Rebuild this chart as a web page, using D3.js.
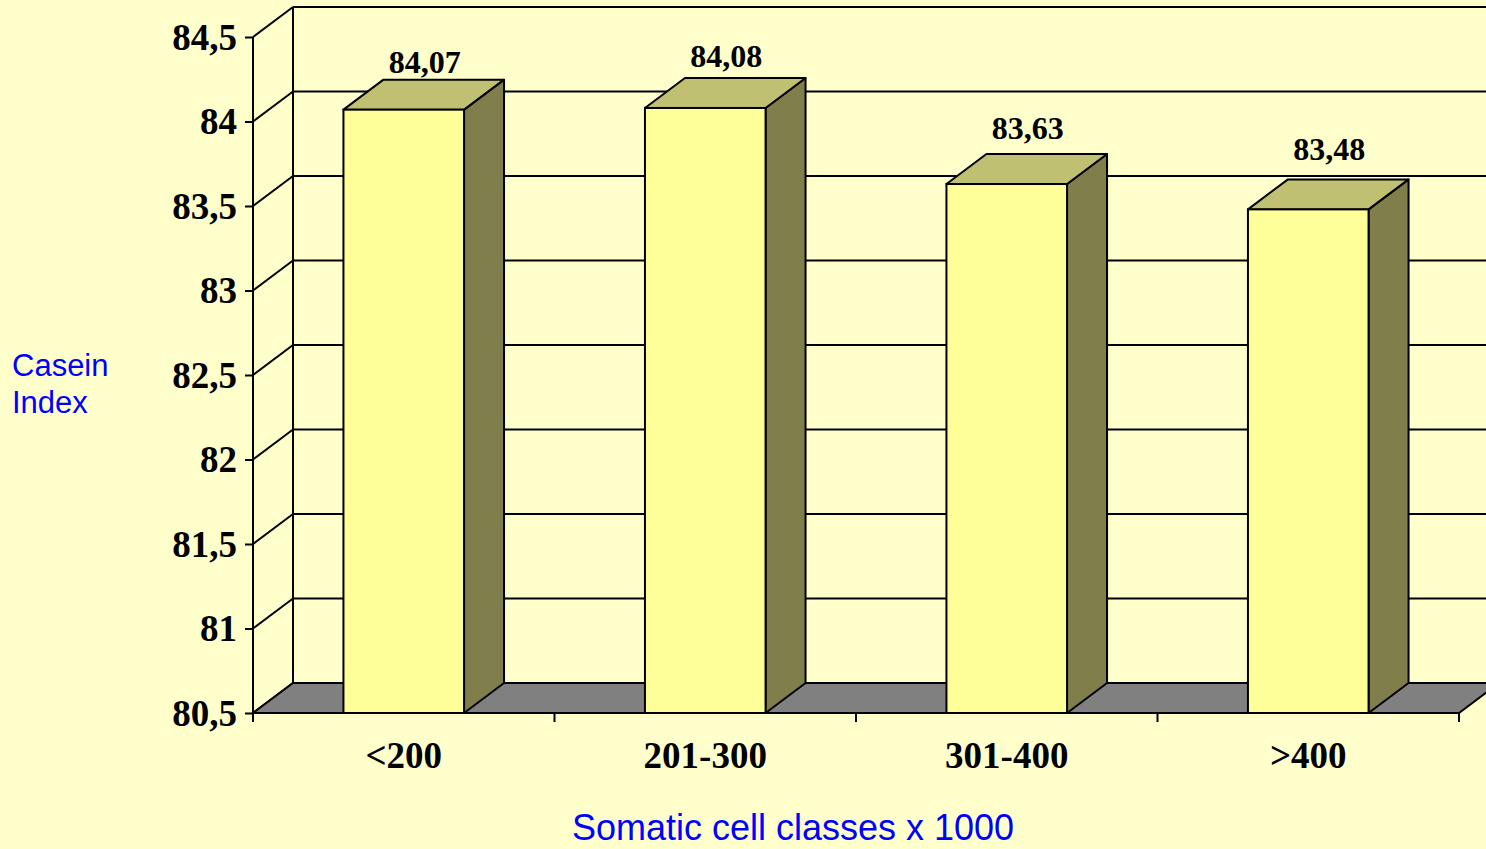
<!DOCTYPE html>
<html>
<head>
<meta charset="utf-8">
<script src="https://cdn.jsdelivr.net/npm/d3@7"></script>
<style>
  html, body { margin: 0; padding: 0; background: #FFFFCC; }
  svg { display: block; }
  .num { font-family: "Liberation Serif", "Times New Roman", serif; font-weight: bold; fill: #000; }
  .ttl { font-family: "Liberation Sans", Arial, sans-serif; fill: #0000FF; }
</style>
</head>
<body>
<svg id="chart" width="1486" height="849"></svg>
<script>
// Casein index by somatic cell class
const categories = ["<200", "201-300", "301-400", ">400"];
const caseinIndex = [84.07, 84.08, 83.63, 83.48];
const yTicks = [80.5, 81, 81.5, 82, 82.5, 83, 83.5, 84, 84.5];

const W = 1486, H = 849;
const svg = d3.select("#chart");
svg.append("rect").attr("width", W).attr("height", H).attr("fill", "#FFFFCC");

// front plane geometry and depth offset of the 3D box
const x0 = 253, x1 = 1459, yBottom = 713, yTop = 37;
const dx = 40, dy = -30;

const y = d3.scaleLinear().domain([80.5, 84.5]).range([yBottom, yTop]);
const x = d3.scaleBand().domain(categories).range([x0, x1]).padding(0);
const barW = x.bandwidth() / 2.5;   // gap width 150%

const loc = d3.formatLocale({ decimal: ",", thousands: ".", grouping: [3], currency: ["", ""] });
const fmtTick = loc.format(".1~f");
const fmtVal = loc.format(".2f");

const stroke = "#000";
const lw = 2;

// back wall gridlines
const g = svg.append("g");
g.selectAll("line.grid").data(yTicks.slice(1)).join("line")
  .attr("x1", x0 + dx).attr("x2", x1 + dx)
  .attr("y1", d => y(d) + dy).attr("y2", d => y(d) + dy)
  .attr("stroke", stroke).attr("stroke-width", lw);

// left side wall: diagonal lines from front ticks to the back wall
g.selectAll("line.side").data(yTicks).join("line")
  .attr("x1", x0).attr("y1", d => y(d))
  .attr("x2", x0 + dx).attr("y2", d => y(d) + dy)
  .attr("stroke", stroke).attr("stroke-width", lw);

// back wall left edge
g.append("line")
  .attr("x1", x0 + dx).attr("x2", x0 + dx)
  .attr("y1", y(84.5) + dy).attr("y2", y(80.5) + dy)
  .attr("stroke", stroke).attr("stroke-width", lw);

// floor
g.append("path")
  .attr("d", `M${x0},${yBottom}L${x1},${yBottom}L${x1 + dx},${yBottom + dy}L${x0 + dx},${yBottom + dy}Z`)
  .attr("fill", "#808080").attr("stroke", stroke).attr("stroke-width", lw)
  .attr("stroke-linejoin", "miter");

// bars
const bars = svg.append("g");
categories.forEach((c, i) => {
  const v = caseinIndex[i];
  const bx = x(c) + (x.bandwidth() - barW) / 2;
  const top = y(v), bot = y(80.5);
  const bg = bars.append("g");
  // side face
  bg.append("path")
    .attr("d", `M${bx + barW},${bot}L${bx + barW + dx},${bot + dy}L${bx + barW + dx},${top + dy}L${bx + barW},${top}Z`)
    .attr("fill", "#807F4C").attr("stroke", stroke).attr("stroke-width", lw).attr("stroke-linejoin", "round");
  // top face
  bg.append("path")
    .attr("d", `M${bx},${top}L${bx + dx},${top + dy}L${bx + barW + dx},${top + dy}L${bx + barW},${top}Z`)
    .attr("fill", "#C0C072").attr("stroke", stroke).attr("stroke-width", lw).attr("stroke-linejoin", "round");
  // front face
  bg.append("rect")
    .attr("x", bx).attr("y", top).attr("width", barW).attr("height", bot - top)
    .attr("fill", "#FFFF99").attr("stroke", stroke).attr("stroke-width", lw);
  // value label, lifted a little more towards the right (perspective)
  bg.append("text").attr("class", "num")
    .attr("x", bx + barW / 2 + dx / 2 + 1).attr("y", top + dy - 7 - 4 * i)
    .attr("text-anchor", "middle").attr("font-size", 32)
    .text(fmtVal(v));
});

// value axis on the front plane
const yAxis = svg.append("g").attr("transform", `translate(${x0},0)`)
  .call(d3.axisLeft(y).tickValues(yTicks).tickSize(8).tickPadding(8).tickFormat(fmtTick));
yAxis.select(".domain").attr("stroke", stroke).attr("stroke-width", lw).attr("d", `M0,${yTop}V${yBottom}`);
yAxis.selectAll(".tick line").attr("stroke", stroke).attr("stroke-width", lw);
yAxis.selectAll(".tick text").attr("class", "num").attr("font-size", 37)
  .attr("dy", "0.33em").attr("fill", "#000");

// category axis on the front plane
const xAxis = svg.append("g").attr("transform", `translate(0,${yBottom})`)
  .call(d3.axisBottom(x).tickSize(0));
xAxis.select(".domain").remove();
xAxis.selectAll(".tick text").attr("class", "num").attr("font-size", 37).attr("fill", "#000")
  .attr("y", 55).attr("dy", 0);
svg.append("g").selectAll("line").data(d3.range(categories.length + 1)).join("line")
  .attr("x1", i => x0 + i * x.step()).attr("x2", i => x0 + i * x.step())
  .attr("y1", yBottom).attr("y2", yBottom + 9)
  .attr("stroke", stroke).attr("stroke-width", lw);
svg.append("line").attr("x1", x0).attr("x2", x1).attr("y1", yBottom).attr("y2", yBottom)
  .attr("stroke", stroke).attr("stroke-width", lw);

// axis titles
const yt = svg.append("text").attr("class", "ttl").attr("font-size", 31).attr("x", 12);
yt.append("tspan").attr("x", 12).attr("y", 376).text("Casein");
yt.append("tspan").attr("x", 12).attr("y", 413).text("Index");
svg.append("text").attr("class", "ttl").attr("font-size", 36)
  .attr("x", 793).attr("y", 840).attr("text-anchor", "middle")
  .text("Somatic cell classes x 1000");
</script>
</body>
</html>
